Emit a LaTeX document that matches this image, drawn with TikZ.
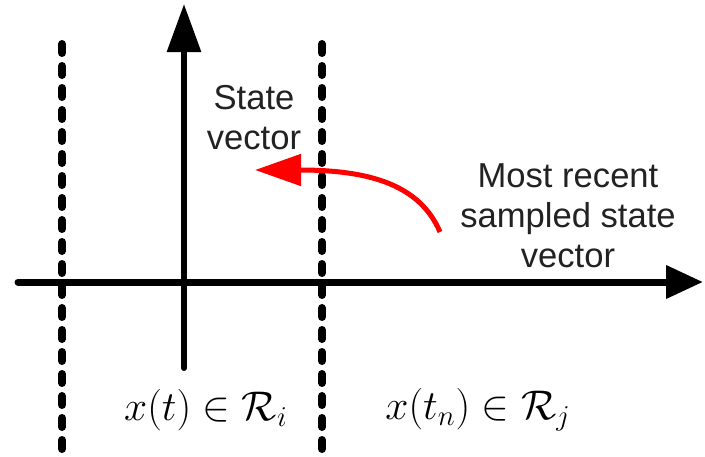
\documentclass[tikz,border=0pt]{standalone}
\usepackage{fontspec}
\setmainfont{Liberation Sans}
\usetikzlibrary{arrows.meta, positioning, calc}
\definecolor{curvered}{HTML}{FF0000}
\definecolor{labelgray}{HTML}{222222}

\begin{document}
\begin{tikzpicture}[
      x=0.5pt, y=-0.5pt,
      axis/.style={line width=3.5pt, line cap=round},
      boundary/.style={line width=4pt, line cap=round,
        dash pattern=on 4.5pt off 6.5pt},
      caption/.style={align=center, text=labelgray,
        font=\fontsize{17.3}{20}\selectfont},
      region/.style={font=\fontsize{22}{26}\selectfont}
    ]
      \useasboundingbox (0,0) rectangle (705,456);
      % axes
      \coordinate (hstart) at (18,282);
      \coordinate (hend) at (703,282);
      \coordinate (vstart) at (184,368);
      \coordinate (vend) at (184,4);
      \draw[axis, -{Triangle[length=18.5pt, width=16pt]}] (hstart) -- (hend);
      \draw[axis, line width=3pt, -{Triangle[length=24pt, width=16.5pt]}]
        (vstart) -- (vend);
      % region boundaries
      \coordinate (lefttop) at (62,44);
      \coordinate (leftbot) at (62,462);
      \coordinate (midtop) at (322,44);
      \coordinate (midbot) at (322,462);
      \draw[boundary] (lefttop) -- (leftbot);
      \draw[boundary] (midtop) -- (midbot);
      % labels
      \node[caption] (statelbl) at (254,118) {State\\vector};
      \node[caption] (recentlbl) at (568,216)
        {Most recent\\sampled state\\vector};
      \node[region] (regioni) at (206,410) {$x(t)\in\mathcal{R}_i$};
      \node[region] (regionj) at (478,410) {$x(t_n)\in\mathcal{R}_j$};
      % jump back to the state vector
      \coordinate (recentpt) at (440,232);
      \coordinate (statept) at (255,170);
      \draw[curvered, line width=2.5pt,
        -{Triangle[length=23pt, width=15.5pt]}]
        (recentpt) .. controls (420,185) and (370,170) .. (statept);
    \end{tikzpicture}
\end{document}
